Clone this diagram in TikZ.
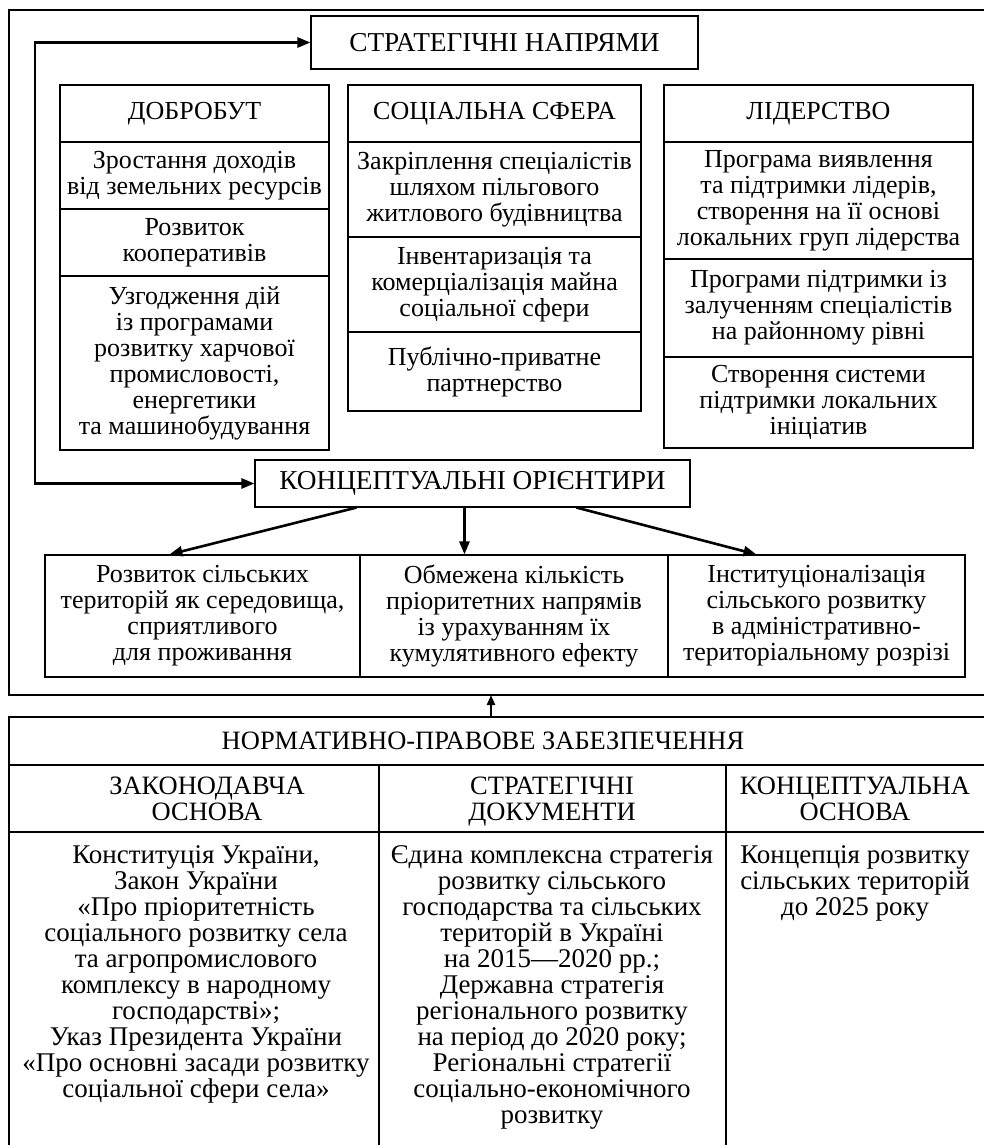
\documentclass[tikz,border=0pt]{standalone}
\usepackage{fontspec}
\setmainfont{Liberation Serif}
\usetikzlibrary{arrows.meta,calc}
\newcommand{\fsz}{\fontsize{26}{26}\selectfont}
\newcommand{\fhd}{\fontsize{26}{26}\selectfont}
\newcommand{\fti}{\fontsize{27.3}{26}\selectfont}
\newcommand{\fbt}{\fontsize{27}{26}\selectfont}
\newcommand{\fbh}{\fontsize{26.5}{26}\selectfont}
\newcommand{\mycell}[6]{\node[cell, minimum width={#4-#2}, minimum height={#5-#3}] (#1) at ({(#2+#4)/2},{(#3+#5)/2}) {#6};}
\tikzset{
  cell/.style={draw, line width=1.1pt, inner sep=0pt, align=center, font=\fsz},
  txt/.style={inner sep=0pt, align=center, font=\fbt},
  htxt/.style={inner sep=0pt, align=center, font=\fbh},
  frame/.style={line width=1.1pt},
  arr/.style={line width=2.6pt, -{Triangle[length=13pt,width=10pt]}},
  arrs/.style={line width=2.2pt, -{Triangle[length=10pt,width=8pt]}}
}
\begin{document}
\begin{tikzpicture}[x=1pt,y=-1pt]
\useasboundingbox (0,0) rectangle (983,1145);
% outer frame (open at right)
\draw[frame] (990,10) -- (9,10) -- (9,695) -- (990,695);
% top title
\mycell{sn}{311}{16}{698}{69}{\fti СТРАТЕГІЧНІ НАПРЯМИ}
% column 1
\mycell{d0}{60}{85}{329}{142}{\fhd ДОБРОБУТ}
\mycell{d1}{60}{142}{329}{209}{Зростання доходів\\від земельних ресурсів}
\mycell{d2}{60}{209}{329}{276}{Розвиток\\кооперативів}
\mycell{d3}{60}{276}{329}{450}{Узгодження дій\\із програмами\\розвитку харчової\\промисловості,\\енергетики\\та машинобудування}
% column 2
\mycell{s0}{348}{85}{641}{142}{\fhd СОЦІАЛЬНА СФЕРА}
\mycell{s1}{348}{142}{641}{237}{Закріплення спеціалістів\\шляхом пільгового\\житлового будівництва}
\mycell{s2}{348}{237}{641}{332}{Інвентаризація та\\комерціалізація майна\\соціальної сфери}
\mycell{s3}{348}{332}{641}{411}{Публічно-приватне\\партнерство}
% column 3
\mycell{l0}{664}{85}{973}{142}{\fhd ЛІДЕРСТВО}
\mycell{l1}{664}{142}{973}{259}{Програма виявлення\\та підтримки лідерів,\\створення на її основі\\локальних груп лідерства}
\mycell{l2}{664}{259}{973}{357}{Програми підтримки із\\залученням спеціалістів\\на районному рівні}
\mycell{l3}{664}{357}{973}{448}{Створення системи\\підтримки локальних\\ініціатив}
% conceptual
\mycell{ko}{255}{460}{690}{507}{\fti КОНЦЕПТУАЛЬНІ ОРІЄНТИРИ}
\mycell{b1}{45}{555}{360}{677}{Розвиток сільських\\територій як середовища,\\сприятливого\\для проживання}
\mycell{b2}{360}{555}{668}{677}{Обмежена кількість\\пріоритетних напрямів\\із урахуванням їх\\кумулятивного ефекту}
\mycell{b3}{668}{555}{965}{677}{Інституціоналізація\\сільського розвитку\\в адміністративно-\\територіальному розрізі}
% loop arrow
\coordinate (lb) at (35,483.5);
\draw[arr, {Triangle[length=13pt,width=10pt]}-{Triangle[length=13pt,width=10pt]}] (sn.west) -| (lb) -- (ko.west);
% arrows from conceptual
\draw[arr] ([xshift=102pt]ko.south west) -- ([xshift=125pt]b1.north west);
\draw[arr] ([xshift=210pt]ko.south west) -- ([xshift=105pt]b2.north west);
\draw[arr] ([xshift=322pt]ko.south west) -- ([xshift=89pt]b3.north west);
% bottom table
\coordinate (tt) at (491,717);
\coordinate (fb) at (491,695);
\draw[arrs] (tt) -- (fb);
\draw[frame] (990,717) -- (9,717) -- (9,1150);
\draw[frame] (9,765) -- (990,765);
\draw[frame] (9,832) -- (990,832);
\draw[frame] (379,765) -- (379,1150);
\draw[frame] (726,765) -- (726,1150);
\node[htxt] (nh) at (483,741) {НОРМАТИВНО-ПРАВОВЕ ЗАБЕЗПЕЧЕННЯ};
\node[htxt, anchor=north] (h1) at (207,777) {ЗАКОНОДАВЧА\\ОСНОВА};
\node[htxt, anchor=north] (h2) at (552,777) {СТРАТЕГІЧНІ\\ДОКУМЕНТИ};
\node[htxt, anchor=north] (h3) at (855,777) {КОНЦЕПТУАЛЬНА\\ОСНОВА};
\node[txt, anchor=north] (c1) at (196,845) {Конституція України,\\Закон України\\«Про пріоритетність\\соціального розвитку села\\та агропромислового\\комплексу в народному\\господарстві»;\\Указ Президента України\\«Про основні засади розвитку\\соціальної сфери села»};
\node[txt, anchor=north] (c2) at (552,845) {Єдина комплексна стратегія\\розвитку сільського\\господарства та сільських\\територій в Україні\\на 2015—2020 рр.;\\Державна стратегія\\регіонального розвитку\\на період до 2020 року;\\Регіональні стратегії\\соціально-економічного\\розвитку};
\node[txt, anchor=north] (c3) at (855,845) {Концепція розвитку\\сільських територій\\до 2025 року};
\end{tikzpicture}
\end{document}
